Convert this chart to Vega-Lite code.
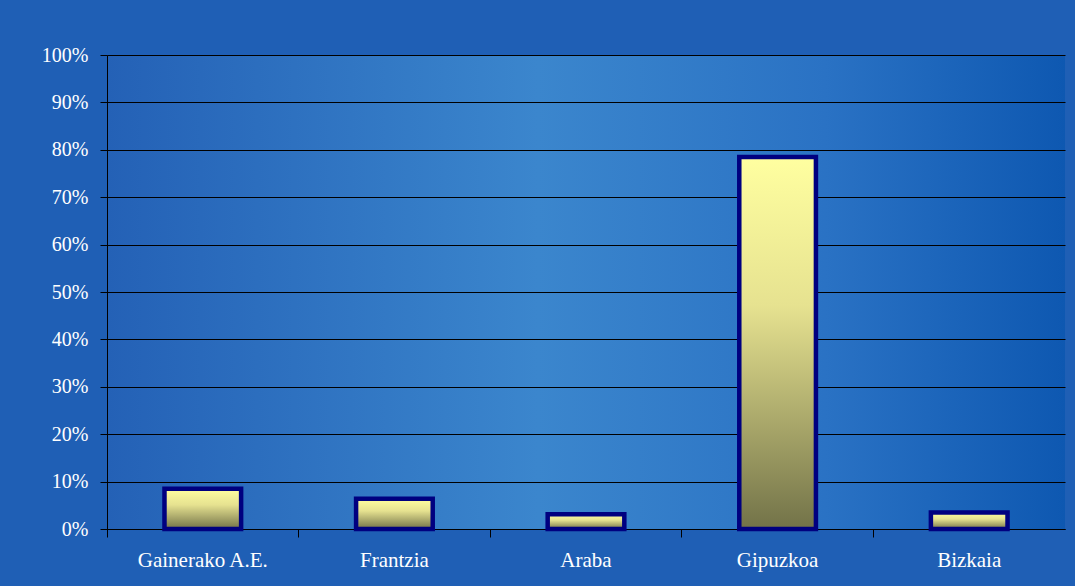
{
  "$schema": "https://vega.github.io/schema/vega-lite/v6.json",
  "autosize": {"type": "none"},
  "padding": {"left": 107, "top": 55, "right": 10, "bottom": 57},
  "width": 958,
  "height": 474,
  "background": "#1f5fb5",
  "view": {
    "stroke": null,
    "fill": {
      "gradient": "linear", "x1": 0, "y1": 0, "x2": 1, "y2": 0,
      "stops": [
        {"offset": 0, "color": "#2461b6"},
        {"offset": 0.45, "color": "#3b86cd"},
        {"offset": 0.75, "color": "#2a72c4"},
        {"offset": 1, "color": "#0e58b1"}
      ]
    }
  },
  "data": {
    "values": [
      {"region": "Gainerako A.E.", "share": 0.085},
      {"region": "Frantzia", "share": 0.064},
      {"region": "Araba", "share": 0.031},
      {"region": "Gipuzkoa", "share": 0.785},
      {"region": "Bizkaia", "share": 0.035}
    ]
  },
  "mark": {
    "type": "bar",
    "width": {"band": 0.4},
    "stroke": "#000080",
    "strokeWidth": 4.5,
    "color": {
      "gradient": "linear", "x1": 0, "y1": 0, "x2": 0, "y2": 1,
      "stops": [
        {"offset": 0, "color": "#ffffa0"},
        {"offset": 0.4, "color": "#e6e290"},
        {"offset": 1, "color": "#727248"}
      ]
    }
  },
  "encoding": {
    "x": {
      "field": "region", "type": "nominal", "sort": null,
      "scale": {"paddingInner": 0, "paddingOuter": 0},
      "axis": {
        "title": null, "labelAngle": 0, "bandPosition": 0,
        "domainColor": "#000000", "tickColor": "#000000", "tickSize": 8,
        "labelColor": "#ffffff", "labelFont": "Liberation Serif", "labelFontSize": 21,
        "labelPadding": 12, "grid": false
      }
    },
    "y": {
      "field": "share", "type": "quantitative",
      "scale": {"domain": [0, 1], "nice": false},
      "axis": {
        "title": null, "format": ".0%", "values": [0, 0.1, 0.2, 0.3, 0.4, 0.5, 0.6, 0.7, 0.8, 0.9, 1],
        "domainColor": "#000000", "tickColor": "#000000", "tickSize": 7,
        "gridColor": "#000000", "gridOpacity": 1, "gridWidth": 1,
        "labelColor": "#ffffff", "labelFont": "Liberation Serif", "labelFontSize": 20,
        "labelPadding": 12
      }
    }
  }
}
